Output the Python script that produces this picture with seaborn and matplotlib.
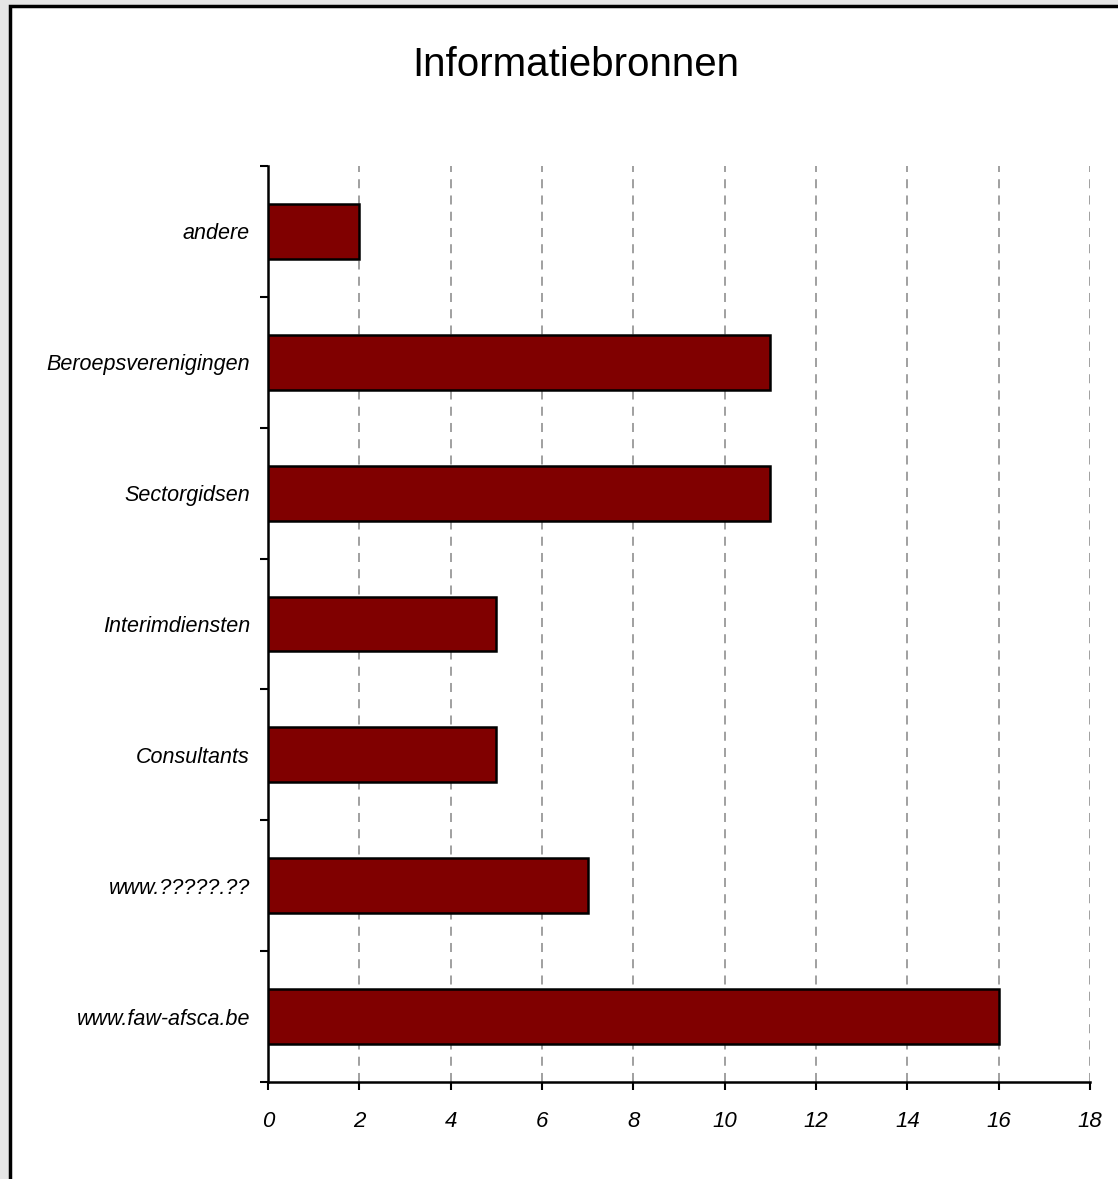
import matplotlib
matplotlib.use("Agg")
import matplotlib.pyplot as plt
import seaborn as sns
import pandas as pd
from matplotlib.patches import Rectangle
from matplotlib.ticker import FixedLocator

# Gegevens van de grafiek
bronnen = ["andere", "Beroepsverenigingen", "Sectorgidsen", "Interimdiensten",
           "Consultants", "www.?????.??", "www.faw-afsca.be"]
aantallen = [2, 11, 11, 5, 5, 7, 16]
x_ticks = [0, 2, 4, 6, 8, 10, 12, 14, 16, 18]

df = pd.DataFrame({"bron": bronnen, "aantal": aantallen})

sns.set_style("white")
plt.rcParams["font.family"] = ["Liberation Sans", "DejaVu Sans"]

fig = plt.figure(figsize=(11.18, 11.79), dpi=100)
fig.patch.set_facecolor("#e6e6e6")
# witte kaart met zwarte rand (achter de assen)
fig.patches.append(Rectangle((10 / 1118, -0.01), 1.0, 1 - 6 / 1179 + 0.01,
                             transform=fig.transFigure, facecolor="white",
                             edgecolor="black", linewidth=2.5, zorder=-5))

ax = fig.add_axes([268 / 1118, 1 - 1082 / 1179, (1090 - 268) / 1118, (1082 - 166) / 1179])
ax.set_facecolor("none")
ax.set_zorder(2)

sns.barplot(data=df, x="aantal", y="bron", color="#800000", edgecolor="black",
            linewidth=1.8, width=0.42, saturation=1, ax=ax, zorder=3)

ax.set_xlim(0, 18)
ax.set_ylim(len(bronnen) - 0.5, -0.5)
ax.set_xticks(x_ticks)
ax.set_xticklabels([str(t) for t in x_ticks], fontsize=16, style="italic", color="black")
ax.set_yticklabels(bronnen, fontsize=15.5, style="italic", color="black")
ax.yaxis.set_minor_locator(FixedLocator([i - 0.5 for i in range(len(bronnen) + 1)]))

ax.tick_params(axis="y", which="major", length=0, pad=13)
ax.tick_params(axis="y", which="minor", length=6, width=1.5, direction="out", left=True, color="black")
ax.tick_params(axis="x", which="major", length=6, width=1.5, direction="out", bottom=True,
               pad=15, color="black")

ax.grid(axis="x", color="#999999", linestyle=(0, (5, 4)), linewidth=1.3, zorder=0)
ax.set_axisbelow(True)

for side in ["top", "right"]:
    ax.spines[side].set_visible(False)
for side in ["left", "bottom"]:
    ax.spines[side].set_color("black")
    ax.spines[side].set_linewidth(1.8)

ax.set_xlabel("")
ax.set_ylabel("")

fig.text(576 / 1118, 1 - 65 / 1179, "Informatiebronnen", fontsize=29,
         ha="center", va="center", color="black")

fig.savefig("out.png", dpi=100, facecolor=fig.get_facecolor())
